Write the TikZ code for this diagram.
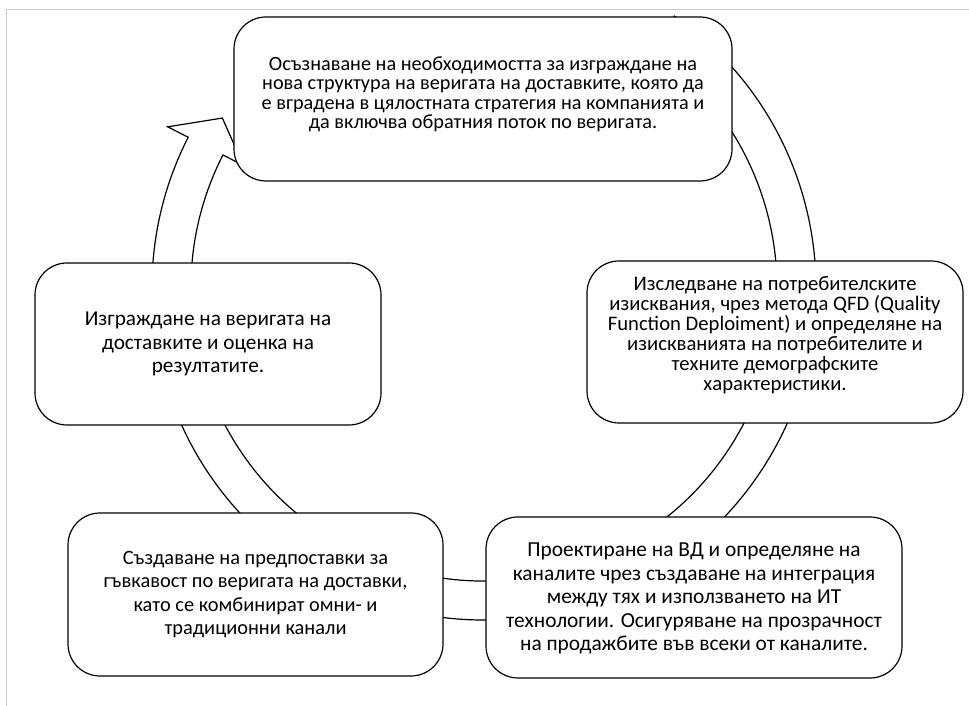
\documentclass[tikz,border=0pt]{standalone}
\usepackage{fontspec}
\setmainfont{Carlito}
\usepackage{tikz}
\usetikzlibrary{calc}

\begin{document}
\begin{tikzpicture}[
    stage/.style={draw, fill=white, line width=0.030cm, rounded corners=0.8cm,
                  align=center, inner sep=0pt},
    ring/.style={draw, fill=white, line width=0.030cm, line join=miter}
  ]
            \useasboundingbox (0.000000,0.000000) rectangle (24.225000,17.650000);
            {

            % Page edge
            \draw [black!22, line width=0.020cm] (0.150000,0.000000) -- (0.150000,17.425000) -- (24.225000,17.425000);%

            % Drawing the ring arrow round the hub
            \coordinate (hub) at (12.100000,10.450000);
            \begin{scope}[shift={(hub)}]
            \draw [ring] (415:7.325000) -- (415:8.300000)
                arc [start angle=415, end angle=153, radius=8.300000]
                -- (153:8.875000) -- (147:7.800000) -- (153:6.750000) -- (153:7.325000)
                arc [start angle=153, end angle=415, radius=7.325000] -- cycle;%
            \end{scope}

            % Stage: awareness (top)
            \node [stage, minimum width=12.450000cm, minimum height=4.100000cm, text depth=9pt,
                   font=\fontsize{14.4}{13.9}\selectfont] (aware) at (12.075000,15.175000)
                {Осъзнаване на необходимостта за изграждане на\\
                 нова структура на веригата на доставките, която да\\
                 е вградена в цялостната стратегия на компанията и\\
                 да включва обратния поток по веригата.};%

            % Stage: research (right)
            \node [stage, minimum width=9.400000cm, minimum height=4.050000cm, text depth=12pt,
                   font=\fontsize{14.7}{14.2}\selectfont] (research) at (19.375000,9.100000)
                {Изследване на потребителските\\
                 изисквания, чрез метода QFD (Quality\\
                 Function Deploiment) и определяне на\\
                 изискванията на потребителите и\\
                 техните демографските\\
                 характеристики.};%

            % Stage: design (bottom right)
            \node [stage, minimum width=10.400000cm, minimum height=4.025000cm, text depth=1pt,
                   font=\fontsize{15.2}{16.8}\selectfont] (design) at (17.350000,2.712500)
                {Проектиране на ВД и определяне на\\
                 каналите чрез създаване на интеграция\\
                 между тях и използването на ИТ\\
                 технологии. Осигуряване на прозрачност\\
                 на продажбите във всеки от каналите.};%

            % Stage: flexibility (bottom left)
            \node [stage, minimum width=9.375000cm, minimum height=4.075000cm,
                   font=\fontsize{14.5}{16.6}\selectfont] (flex) at (6.387500,2.787500)
                {Създаване на предпоставки за\\
                 гъвкавост по веригата на доставки,\\
                 като се комбинират омни- и\\
                 традиционни канали};%

            % Stage: building (left)
            \node [stage, minimum width=8.650000cm, minimum height=4.050000cm,
                   font=\fontsize{15.1}{16.6}\selectfont] (build) at (5.200000,9.050000)
                {Изграждане на веригата на\\
                 доставките и оценка на\\
                 резултатите.};%
            }
\end{tikzpicture}
\end{document}
